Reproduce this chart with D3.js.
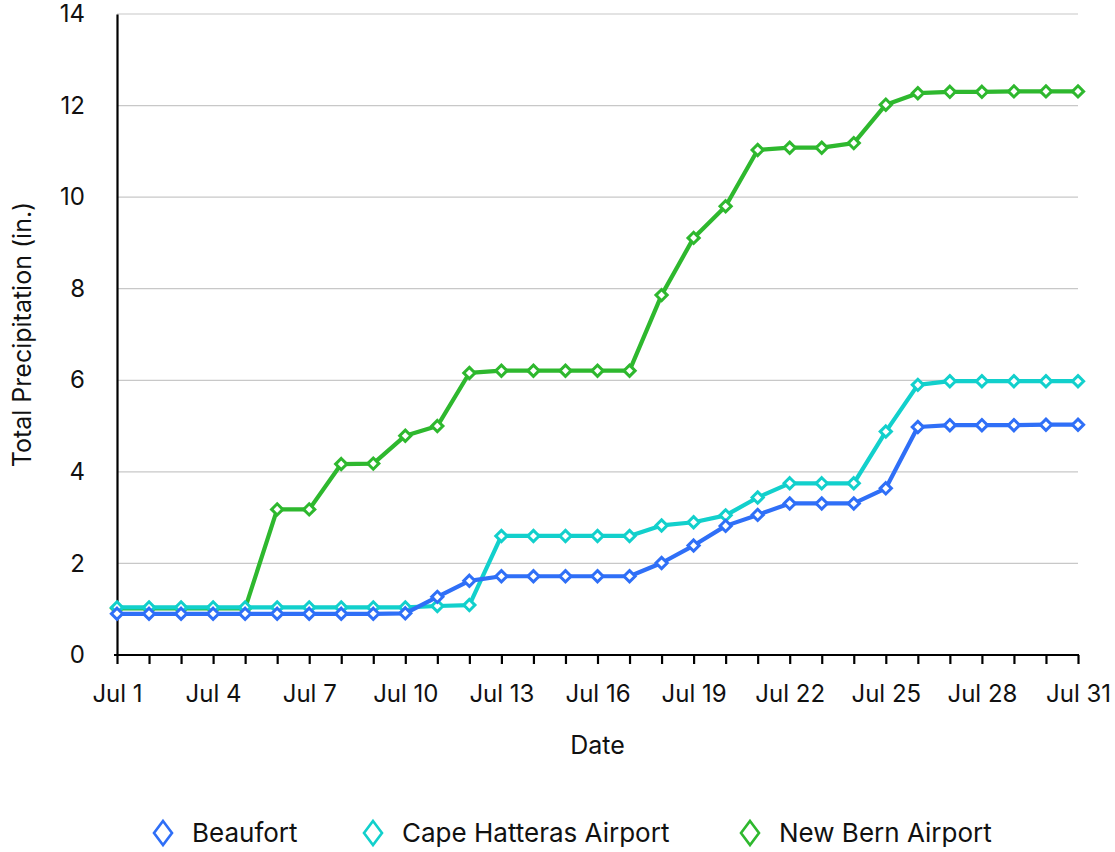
<!DOCTYPE html>
<html>
<head>
<meta charset="utf-8">
<script src="https://cdn.jsdelivr.net/npm/d3@7"></script>
<style>
  html, body { margin: 0; padding: 0; background: #fff; }
  svg { display: block; font-family: Inter, "Noto Sans", sans-serif; }
</style>
</head>
<body>
<svg id="chart" width="1115" height="852"></svg>
<script>
// Daily cumulative precipitation, July
const days = d3.range(1, 32);
const seriesNames = ["Beaufort", "Cape Hatteras Airport", "New Bern Airport"];
const seriesColors = ["#2f6ff7", "#12d0cc", "#2eb82e"];

const beaufort = [0.9, 0.9, 0.9, 0.9, 0.9, 0.9, 0.9, 0.9, 0.9, 0.91, 1.27, 1.62, 1.72, 1.72, 1.72, 1.72, 1.72,
  2.01, 2.39, 2.82, 3.06, 3.31, 3.31, 3.31, 3.64, 4.98, 5.02, 5.02, 5.02, 5.03, 5.03];
const capeHatteras = [1.04, 1.04, 1.04, 1.04, 1.04, 1.04, 1.04, 1.04, 1.04, 1.04, 1.07, 1.09, 2.6, 2.6, 2.6, 2.6, 2.6,
  2.83, 2.9, 3.05, 3.44, 3.75, 3.75, 3.75, 4.88, 5.9, 5.98, 5.98, 5.98, 5.98, 5.98];
const newBern = [1.02, 1.02, 1.02, 1.02, 1.02, 3.18, 3.18, 4.17, 4.18, 4.79, 5.0, 6.16, 6.21, 6.21, 6.21, 6.21, 6.21,
  7.86, 9.11, 9.8, 11.03, 11.08, 11.08, 11.18, 12.02, 12.27, 12.3, 12.3, 12.31, 12.31, 12.31];
const seriesValues = [beaufort, capeHatteras, newBern];

const yTicks = [0, 2, 4, 6, 8, 10, 12, 14];
const xLabelDays = [1, 4, 7, 10, 13, 16, 19, 22, 25, 28, 31];

const svg = d3.select("#chart");
const plotLeft = 117, plotRight = 1078, plotTop = 14, plotBottom = 655;

const x = d3.scaleLinear().domain([1, 31]).range([plotLeft, plotRight]);
const y = d3.scaleLinear().domain([0, 14]).range([plotBottom, plotTop]);

// Horizontal gridlines
svg.append("g")
  .selectAll("line")
  .data(yTicks.filter(t => t > 0))
  .join("line")
  .attr("x1", plotLeft).attr("x2", plotRight)
  .attr("y1", d => y(d)).attr("y2", d => y(d))
  .attr("stroke", "#c8c8c8").attr("stroke-width", 1.2);

// Y axis
const yAxis = svg.append("g")
  .attr("transform", `translate(${plotLeft},0)`)
  .call(d3.axisLeft(y).tickValues(yTicks).tickSize(0).tickPadding(32));
yAxis.select(".domain").attr("stroke", "#000").attr("stroke-width", 2.2);
yAxis.selectAll("text").attr("font-size", 24).attr("fill", "#111")
  .attr("font-family", "Inter, sans-serif");

// X axis
const xAxis = svg.append("g")
  .attr("transform", `translate(0,${plotBottom})`)
  .call(d3.axisBottom(x).tickValues(days).tickSize(9)
    .tickFormat(d => xLabelDays.includes(d) ? "Jul " + d : ""));
xAxis.select(".domain").attr("stroke", "#000").attr("stroke-width", 2.2)
  .attr("d", `M${plotLeft - 3},0H${plotRight + 1}`);
xAxis.selectAll(".tick line").attr("stroke", "#000").attr("stroke-width", 2.2);
xAxis.selectAll("text").attr("font-size", 24).attr("fill", "#111")
  .attr("font-family", "Inter, sans-serif")
  .attr("y", 47).attr("dy", 0);

// Axis titles
svg.append("text")
  .attr("x", (plotLeft + plotRight) / 2).attr("y", 754)
  .attr("text-anchor", "middle")
  .attr("font-size", 25).attr("fill", "#111")
  .text("Date");

svg.append("text")
  .attr("transform", `translate(31,${(plotTop + plotBottom) / 2}) rotate(-90)`)
  .attr("text-anchor", "middle")
  .attr("font-size", 25).attr("fill", "#111")
  .text("Total Precipitation (in.)");

// Lines + markers: New Bern at the bottom, Beaufort on top
const line = d3.line().x((d, i) => x(days[i])).y(d => y(d));
const diamond = d3.symbol().type(d3.symbolDiamond2).size(80);

[2, 1, 0].forEach(k => {
  const g = svg.append("g");
  g.append("path")
    .datum(seriesValues[k])
    .attr("d", line)
    .attr("fill", "none")
    .attr("stroke", seriesColors[k])
    .attr("stroke-width", 4.2)
    .attr("stroke-linejoin", "round");
  g.selectAll("path.m")
    .data(seriesValues[k])
    .join("path")
    .attr("class", "m")
    .attr("transform", (d, i) => `translate(${x(days[i])},${y(d)})`)
    .attr("d", diamond)
    .attr("fill", "#fff")
    .attr("stroke", seriesColors[k])
    .attr("stroke-width", 3);
});

// Legend
const legendX = [163, 373, 750];
const legend = svg.append("g");
seriesNames.forEach((name, k) => {
  const cx = legendX[k], cy = 833;
  legend.append("path")
    .attr("d", `M${cx},${cy - 12}L${cx + 9},${cy}L${cx},${cy + 12}L${cx - 9},${cy}Z`)
    .attr("fill", "#fff")
    .attr("stroke", seriesColors[k])
    .attr("stroke-width", 2.6);
  legend.append("text")
    .attr("x", cx + 29).attr("y", cy)
    .attr("dy", "0.35em")
    .attr("font-size", 26).attr("fill", "#111")
    .text(name);
});
</script>
</body>
</html>
